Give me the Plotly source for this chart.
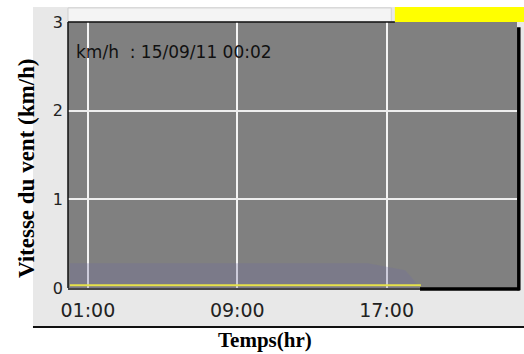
import plotly.graph_objects as go

# Readings: wind speed (km/h) over the day
times = [
    "2011-09-15 00:02", "2011-09-15 02:00", "2011-09-15 04:00", "2011-09-15 06:00",
    "2011-09-15 08:00", "2011-09-15 10:00", "2011-09-15 12:00", "2011-09-15 14:00",
    "2011-09-15 16:00", "2011-09-15 18:00", "2011-09-15 18:50",
]
speed = [0.03, 0.03, 0.03, 0.03, 0.03, 0.03, 0.03, 0.03, 0.03, 0.03, 0.03]
gust_band = [0.28, 0.28, 0.28, 0.28, 0.28, 0.28, 0.28, 0.28, 0.28, 0.2, 0.0]

x_range = ["2011-09-14 23:56", "2011-09-15 23:59"]
x_ticks = ["2011-09-15 01:00", "2011-09-15 09:00", "2011-09-15 17:00"]
x_ticklabels = ["01:00", "09:00", "17:00"]
y_ticks = [0, 1, 2, 3]

stamp = "km/h&nbsp;&nbsp;: 15/09/11 00:02"

fig = go.Figure()
fig.add_trace(go.Scatter(
    x=times, y=gust_band, mode="lines", line=dict(width=0),
    fill="tozeroy", fillcolor="rgba(112,110,160,0.3)", showlegend=False,
))
fig.add_trace(go.Scatter(
    x=times, y=speed, mode="lines", line=dict(color="#e6e24a", width=2),
    showlegend=False,
))

shapes = [
    # light grey panel behind the chart
    dict(type="rect", xref="paper", yref="paper", x0=-0.078, x1=1.02, y0=-0.147, y1=1.056,
         fillcolor="#e8e8e8", line=dict(width=0), layer="below"),
    # lighter strip above the plot
    dict(type="rect", xref="paper", yref="paper", x0=0.0, x1=0.72, y0=1.0, y1=1.053,
         fillcolor="#f4f4f4", line=dict(color="#cfcfcf", width=1), layer="below"),
    # yellow block top right
    dict(type="rect", xref="paper", yref="paper", x0=0.728, x1=1.02, y0=1.0, y1=1.056,
         fillcolor="#ffff00", line=dict(width=0), layer="below"),
    # grey plot area
    dict(type="rect", xref="paper", yref="paper", x0=0, x1=1, y0=0, y1=1,
         fillcolor="#808080", line=dict(width=0), layer="below"),
    # panel bottom line
    dict(type="line", xref="paper", yref="paper", x0=-0.078, x1=1.02, y0=-0.147, y1=-0.147,
         line=dict(color="#111111", width=2)),
    # plot borders
    dict(type="line", xref="paper", yref="paper", x0=0, x1=0.728, y0=1.0, y1=1.0,
         line=dict(color="#111111", width=1.5)),
    dict(type="line", xref="paper", yref="paper", x0=0, x1=0, y0=0, y1=1.0,
         line=dict(color="#111111", width=1.5)),
    dict(type="line", xref="paper", yref="paper", x0=0, x1=0.784, y0=-0.004, y1=-0.004,
         line=dict(color="#111111", width=1.5)),
    dict(type="line", xref="paper", yref="paper", x0=0.784, x1=1.006, y0=-0.004, y1=-0.004,
         line=dict(color="#000000", width=3.5)),
    dict(type="line", xref="paper", yref="paper", x0=1.004, x1=1.004, y0=-0.008, y1=0.98,
         line=dict(color="#000000", width=3.5)),
]

fig.update_layout(
    width=524, height=354,
    margin=dict(l=68, r=7, t=22, b=66),
    paper_bgcolor="white",
    plot_bgcolor="rgba(0,0,0,0)",
    shapes=shapes,
    xaxis=dict(
        type="date", range=x_range,
        tickvals=x_ticks, ticktext=x_ticklabels,
        showgrid=True, gridcolor="#f4f4f4", gridwidth=1.5,
        zeroline=False, showline=False, ticks="",
        ticklabelstandoff=9,
        tickfont=dict(family="DejaVu Sans", size=19, color="#222222"),
    ),
    yaxis=dict(
        range=[0, 3], tickvals=y_ticks,
        showgrid=True, gridcolor="#eeeeee", gridwidth=2,
        zeroline=False, showline=False, ticks="",
        ticklabelstandoff=4,
        tickfont=dict(family="DejaVu Sans", size=16, color="#222222"),
    ),
    annotations=[
        dict(text=stamp, xref="paper", yref="paper", x=0.014, y=0.887,
             xanchor="left", yanchor="middle", showarrow=False,
             font=dict(family="DejaVu Sans", size=17, color="#111111")),
        dict(text="<b>Vitesse du vent (km/h)</b>", xref="paper", yref="paper",
             x=-0.0935, y=0.451, textangle=-90, xanchor="center", yanchor="middle",
             showarrow=False,
             font=dict(family="Liberation Serif", size=23, color="#000000")),
        dict(text="<b>Temps(hr)</b>", xref="paper", yref="paper",
             x=0.439, y=-0.196, xanchor="center", yanchor="middle", showarrow=False,
             font=dict(family="Liberation Serif", size=21, color="#000000")),
    ],
)

# page body has a default 8px margin; drop it so the figure fills the window
fig.write_html("out.html", config={"displayModeBar": False},
               post_script="document.body.style.margin='0px';")
